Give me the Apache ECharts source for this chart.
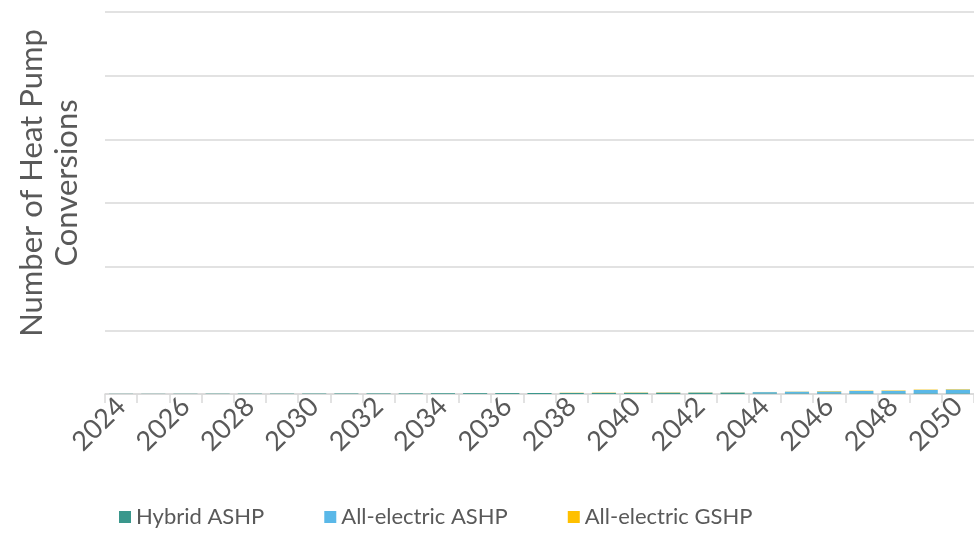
<!DOCTYPE html>
<html>
<head>
<meta charset="utf-8">
<script src="https://cdn.jsdelivr.net/npm/echarts@6/dist/echarts.min.js"></script>
<style>
  html, body { margin: 0; padding: 0; background: #fff; }
  #chart { width: 974px; height: 546px; }
</style>
</head>
<body>
<div id="chart"></div>
<script>
// Annual heat pump conversions by technology, 2024–2050
const years = [];
for (let y = 2024; y <= 2050; y++) years.push(String(y));

const hybridASHP = [1500, 1500, 2000, 2500, 3000, 3000, 3500, 4000, 4500, 5000, 6000, 6500, 7000, 8000,
  8500, 9000, 9500, 10000, 10000, 9500, 5000, 5000, 5000, 5000, 5000, 5000, 5000];
const allElectricASHP = [0, 0, 0, 0, 0, 0, 0, 0, 0, 0, 0, 0, 0, 0,
  0, 0, 500, 1000, 2000, 3000, 10000, 13000, 15000, 19000, 20000, 27000, 30000];
const allElectricGSHP = [0, 0, 0, 0, 0, 0, 0, 0, 0, 0, 0, 0, 0, 0,
  1500, 2000, 2000, 2000, 1500, 1500, 1000, 1500, 3000, 2500, 3000, 3000, 3500];

const yMax = 3000000;
const yInterval = 500000;

const textColor = '#595959';
const font = 'Lato, "Open Sans", sans-serif';

const chart = echarts.init(document.getElementById('chart'));
chart.setOption({
  animation: false,
  textStyle: { fontFamily: font },
  grid: { left: 105, right: -4, top: 12, bottom: 152, containLabel: false },
  legend: {
    bottom: 13,
    left: 114,
    itemWidth: 12,
    itemHeight: 12,
    itemGap: 60,
    icon: 'rect',
    textStyle: { fontSize: 22, color: textColor, fontFamily: font },
    data: ['Hybrid ASHP', 'All-electric ASHP', 'All-electric GSHP']
  },
  graphic: [{
    type: 'text',
    x: 14,
    y: 183,
    rotation: Math.PI / 2,
    originX: 0,
    originY: 0,
    style: {
      text: 'Number of Heat Pump\nConversions',
      fontSize: 31,
      lineHeight: 35,
      fill: textColor,
      fontFamily: font,
      align: 'center',
      verticalAlign: 'top'
    }
  }],
  xAxis: {
    type: 'category',
    data: years,
    boundaryGap: true,
    axisLine: { lineStyle: { color: '#d9d9d9', width: 1.5 } },
    axisTick: { show: true, interval: 0, length: 9, lineStyle: { color: '#d9d9d9', width: 1.5 } },
    axisLabel: {
      interval: 1,
      rotate: 45,
      fontSize: 27,
      color: textColor,
      margin: 8,
      fontFamily: font
    }
  },
  yAxis: {
    type: 'value',
    min: 0,
    max: yMax,
    interval: yInterval,
    axisLabel: { show: false },
    axisLine: { show: false },
    axisTick: { show: false },
    splitLine: { lineStyle: { color: '#d9d9d9', width: 1.5 } }
  },
  series: [
    { name: 'Hybrid ASHP', type: 'bar', stack: 'hp', data: hybridASHP,
      itemStyle: { color: '#3a978c' }, barCategoryGap: '25%' },
    { name: 'All-electric ASHP', type: 'bar', stack: 'hp', data: allElectricASHP,
      itemStyle: { color: '#5ab8e8' } },
    { name: 'All-electric GSHP', type: 'bar', stack: 'hp', data: allElectricGSHP,
      itemStyle: { color: '#ffc000' } }
  ]
});
</script>
</body>
</html>
